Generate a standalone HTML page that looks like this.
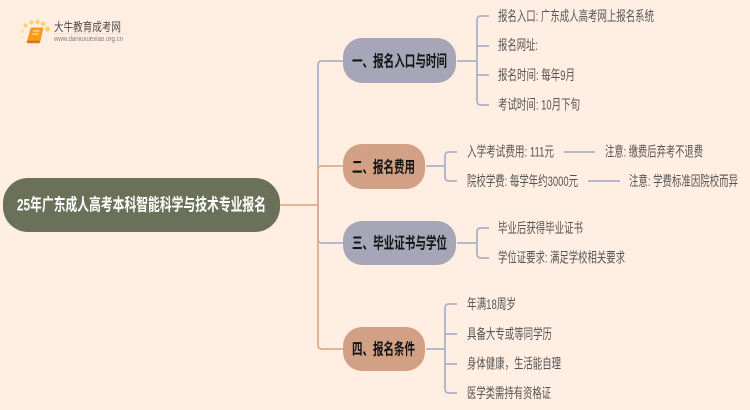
<!DOCTYPE html>
<html lang="zh">
<head>
<meta charset="utf-8">
<style>
html,body{margin:0;padding:0;width:750px;height:410px;overflow:hidden;background:#ffeee1}
svg{display:block;filter:blur(0.3px)}
text{font-family:"Liberation Sans","Noto Sans CJK SC",sans-serif}
.t{font-size:14px;fill:#555555}
.b{font-size:16px;font-weight:700;fill:#141414}
.blue{fill:none;stroke:#adb1c9;stroke-width:1.8}
.peach{fill:none;stroke:#dfab90;stroke-width:1.8}
</style>
</head>
<body>
<svg width="750" height="410" viewBox="0 0 750 410" xmlns="http://www.w3.org/2000/svg">
<rect width="750" height="410" fill="#ffeee1"/>

<!-- logo -->
<g>
  <circle cx="25.500" cy="25.500" r="2" fill="#fbd070"/>
  <circle cx="31.500" cy="22.500" r="2" fill="#fbd070"/>
  <circle cx="37.500" cy="22" r="2.200" fill="#fbd070"/>
  <circle cx="43" cy="24" r="2.200" fill="#fbd070"/>
  <circle cx="47.500" cy="29" r="2.600" fill="#fbd070"/>
  <circle cx="22.500" cy="31" r="1.500" fill="#fbdc9a"/>
  <circle cx="22" cy="37" r="1.300" fill="#fbe2ae"/>
  <circle cx="24" cy="42.500" r="1" fill="#fbe2ae"/>
  <path d="M30.500 28.500 Q30.800 27.500 32 27.500 H43.500 L40.500 41 Q40 43 38 43 H28.500 Q26.500 43 27 41 Z" fill="#f49a1c"/>
  <path d="M27 40.800 H40 L39.500 43.300 H28 Q26.500 43.300 27 40.800 Z" fill="#d8761a"/>
  <path d="M33 31 H39.500 M32.300 34 H38.500" stroke="#ffe0a8" stroke-width="1.200" fill="none"/>
  <text x="54" y="31" font-size="12" fill="#4a4a4a" textLength="67" lengthAdjust="spacingAndGlyphs">大牛教育成考网</text>
  <rect x="54" y="33.500" width="76" height="0.800" fill="#e6dcd4"/>
  <text x="54" y="41" font-size="7" fill="#7d7d7d" textLength="69" lengthAdjust="spacingAndGlyphs">www.daniuxuexiao.org.cn</text>
</g>

<!-- trunk connectors -->
<path class="blue" d="M318 205 V65 Q318 61 322 61 H343"/>
<path class="blue" d="M318 205 V239 Q318 243 322 243 H343"/>
<path class="peach" d="M280 205 H318"/>
<path class="peach" d="M318 205 V170 Q318 166 322 166 H343"/>
<path class="peach" d="M318 205 V345 Q318 349 322 349 H343"/>

<!-- branch 1 connectors -->
<path class="blue" d="M457 61 H477 M477 61 V20 Q477 16 481 16 H489 M477 46 H489 M477 61 V75 H489 M477 75 V101 Q477 105 481 105 H489"/>
<!-- branch 2 connectors -->
<path class="blue" d="M426 166 H445 M445 166 V156 Q445 152 449 152 H457 M445 166 V177 Q445 181 449 181 H457"/>
<path class="blue" d="M564 152 H595 M588 181 H620"/>
<!-- branch 3 connectors -->
<path class="blue" d="M457 243 H477 M477 243 V232 Q477 228 481 228 H489 M477 243 V254 Q477 258 481 258 H489"/>
<!-- branch 4 connectors -->
<path class="blue" d="M426 349 H445 M445 349 V308 Q445 304 449 304 H457 M445 334 H457 M445 349 V364 H457 M445 364 V389 Q445 393 449 393 H457"/>

<!-- root -->
<rect x="3" y="178" width="277" height="54" rx="25" ry="25" fill="#6b7059"/>
<text x="17" y="210.500" font-size="17" font-weight="700" fill="#ffffff" textLength="249" lengthAdjust="spacingAndGlyphs">25年广东成人高考本科智能科学与技术专业报名</text>

<!-- branches -->
<rect x="343" y="38" width="113" height="45" rx="19" fill="#a6a6b8"/>
<text class="b" x="352" y="66.500" textLength="95" lengthAdjust="spacingAndGlyphs">一、报名入口与时间</text>
<rect x="343" y="144" width="82" height="45" rx="19" fill="#d2a085"/>
<text class="b" x="352" y="172.500" textLength="63" lengthAdjust="spacingAndGlyphs">二、报名费用</text>
<rect x="343" y="221" width="113" height="44" rx="19" fill="#a6a6b8"/>
<text class="b" x="352" y="248.500" textLength="95" lengthAdjust="spacingAndGlyphs">三、毕业证书与学位</text>
<rect x="343" y="327" width="82" height="44" rx="19" fill="#d2a085"/>
<text class="b" x="352" y="354.500" textLength="63" lengthAdjust="spacingAndGlyphs">四、报名条件</text>

<!-- leaves 1 -->
<text class="t" x="498" y="21" textLength="156" lengthAdjust="spacingAndGlyphs">报名入口: 广东成人高考网上报名系统</text>
<text class="t" x="498" y="50" textLength="40" lengthAdjust="spacingAndGlyphs">报名网址:</text>
<text class="t" x="498" y="80" textLength="77" lengthAdjust="spacingAndGlyphs">报名时间: 每年9月</text>
<text class="t" x="498" y="109.500" textLength="82" lengthAdjust="spacingAndGlyphs">考试时间: 10月下旬</text>

<!-- leaves 2 -->
<text class="t" x="467" y="156.500" textLength="87" lengthAdjust="spacingAndGlyphs">入学考试费用: 111元</text>
<text class="t" x="467" y="186" textLength="111" lengthAdjust="spacingAndGlyphs">院校学费: 每学年约3000元</text>
<text class="t" x="605" y="156.500" textLength="98" lengthAdjust="spacingAndGlyphs">注意: 缴费后弃考不退费</text>
<text class="t" x="629" y="186" textLength="109" lengthAdjust="spacingAndGlyphs">注意: 学费标准因院校而异</text>

<!-- leaves 3 -->
<text class="t" x="498" y="233" textLength="85" lengthAdjust="spacingAndGlyphs">毕业后获得毕业证书</text>
<text class="t" x="498" y="262.500" textLength="127" lengthAdjust="spacingAndGlyphs">学位证要求: 满足学校相关要求</text>

<!-- leaves 4 -->
<text class="t" x="467" y="309" textLength="49" lengthAdjust="spacingAndGlyphs">年满18周岁</text>
<text class="t" x="467" y="339" textLength="85" lengthAdjust="spacingAndGlyphs">具备大专或等同学历</text>
<text class="t" x="467" y="368.500" textLength="94" lengthAdjust="spacingAndGlyphs">身体健康，生活能自理</text>
<text class="t" x="467" y="398" textLength="84" lengthAdjust="spacingAndGlyphs">医学类需持有资格证</text>
</svg>
</body>
</html>
